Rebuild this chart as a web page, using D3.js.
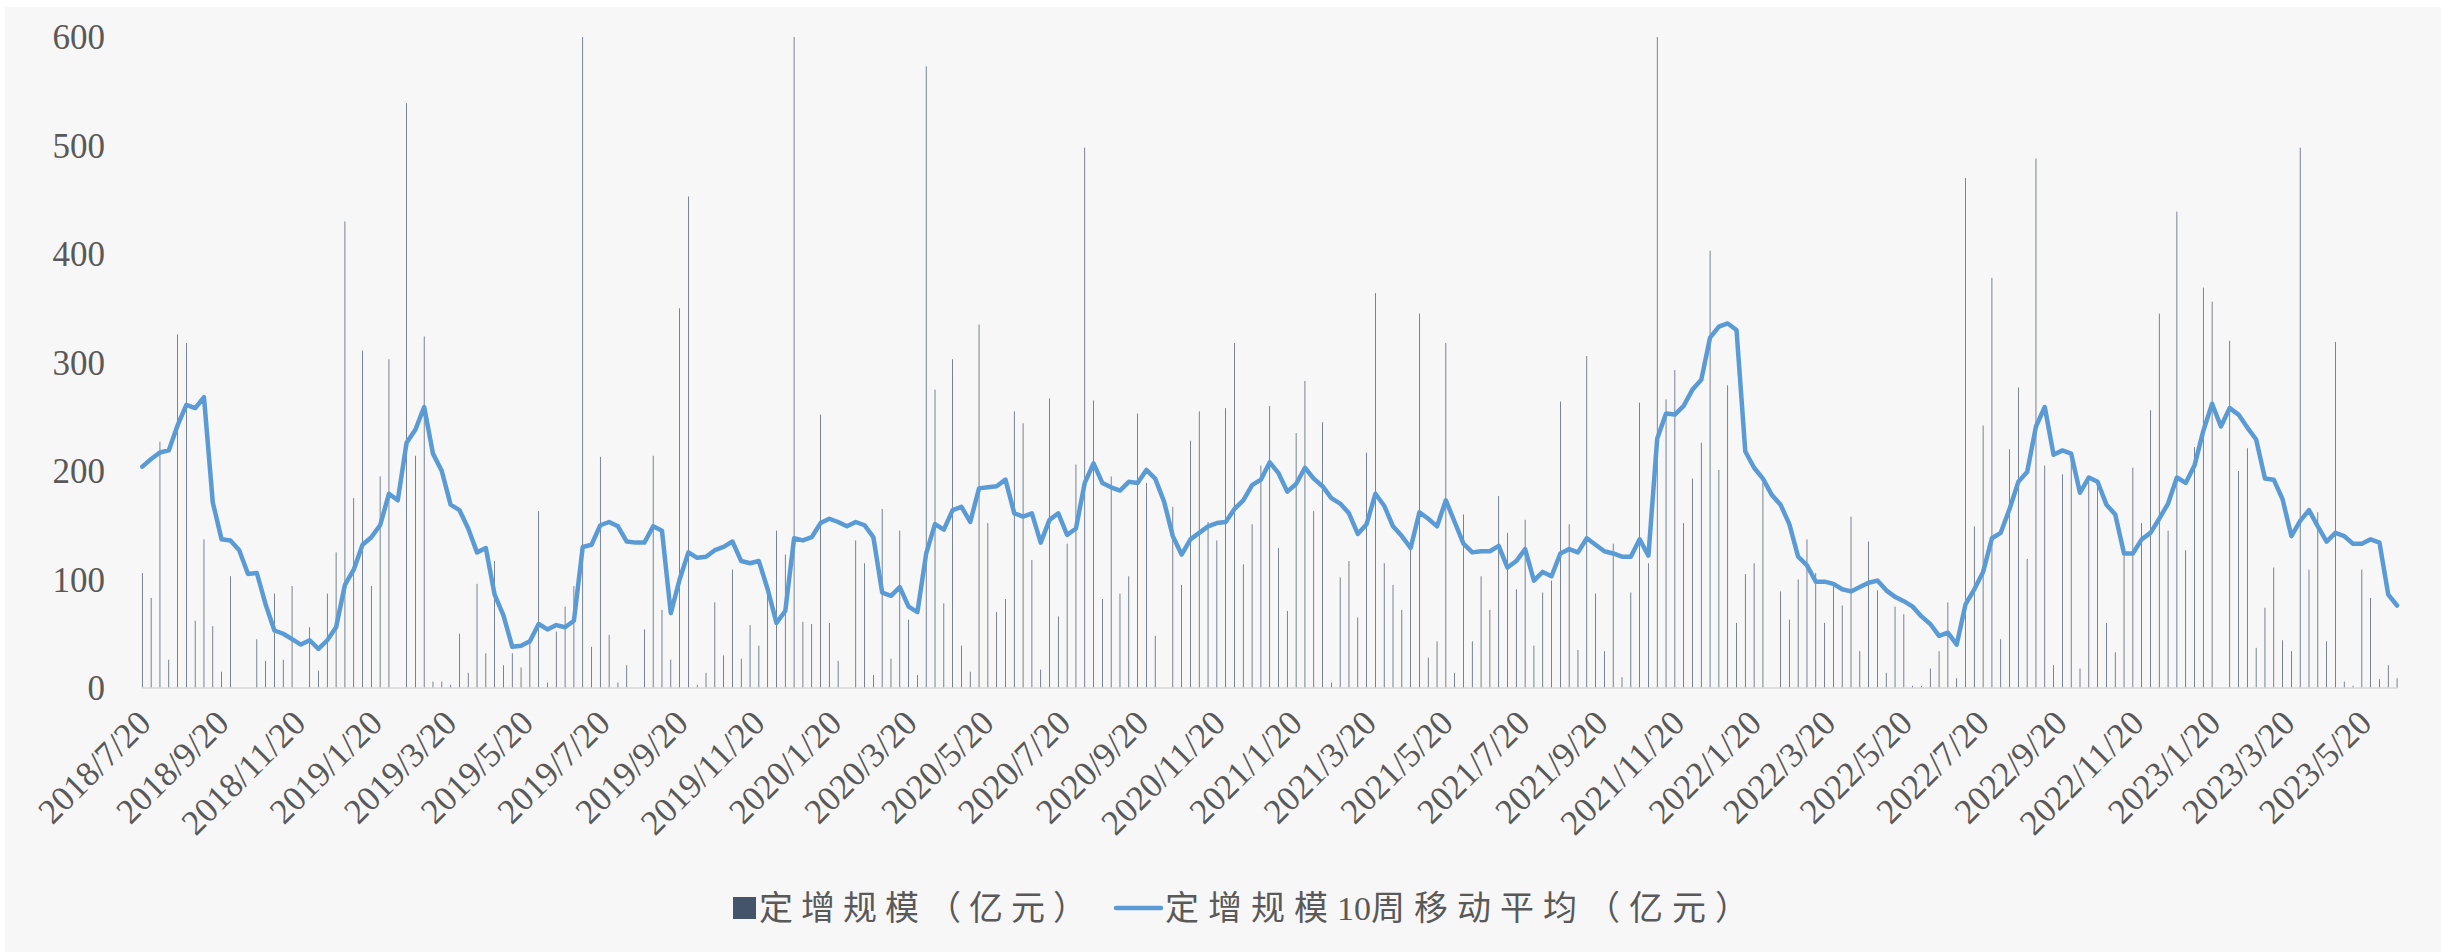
<!DOCTYPE html>
<html>
<head>
<meta charset="utf-8">
<script src="https://cdn.jsdelivr.net/npm/d3@7"></script>
<style>
html,body{margin:0;padding:0;background:#ffffff;}
svg{display:block;}
</style>
</head>
<body>
<svg id="chart" width="2441" height="952"></svg>
<script>
// ---------------- DATA ----------------
const firstWeek = "2018/7/20";   // weekly (Friday) observations from this date

const tickLabels = ["2018/7/20","2018/9/20","2018/11/20","2019/1/20","2019/3/20","2019/5/20",
  "2019/7/20","2019/9/20","2019/11/20","2020/1/20","2020/3/20","2020/5/20","2020/7/20",
  "2020/9/20","2020/11/20","2021/1/20","2021/3/20","2021/5/20","2021/7/20","2021/9/20",
  "2021/11/20","2022/1/20","2022/3/20","2022/5/20","2022/7/20","2022/9/20","2022/11/20",
  "2023/1/20","2023/3/20","2023/5/20"];

const yTicks = [0, 100, 200, 300, 400, 500, 600];

// 定增规模（亿元） weekly
const issuance = [
106,83,227,26,326,318,62,137,57,15,
103,0,0,45,25,87,26,94,0,56,
16,87,125,430,175,311,94,195,303,0,
539,214,324,6,6,3,50,14,96,32,
117,21,32,19,42,163,5,52,75,94,
786,38,213,49,5,21,0,54,214,72,
26,350,453,3,14,79,30,109,27,58,
39,91,145,123,684,61,59,252,60,25,
0,136,115,12,165,27,145,63,12,573,
275,78,303,39,15,335,152,70,82,255,
244,118,17,267,66,133,206,498,265,82,
195,87,103,253,189,48,0,167,95,228,
255,153,136,258,318,114,151,205,260,129,
71,235,283,163,245,5,102,117,65,217,
364,115,95,72,133,345,28,43,318,14,
160,43,103,72,177,143,91,155,39,88,
99,264,151,35,306,87,34,133,10,88,
263,115,1228,266,293,152,193,226,403,201,
279,60,105,115,189,0,89,63,100,137,
106,60,94,76,158,34,135,90,14,75,
68,2,2,18,34,79,9,470,149,242,
378,45,220,277,119,488,205,21,197,212,
18,190,186,60,33,124,203,152,256,345,
145,439,127,222,369,356,0,320,200,221,
37,74,111,44,34,498,109,162,43,319,
6,2,109,83,8,21,9
];

// 定增规模10周移动平均（亿元）
const movingAvg = [
204,211,217,219,242,261,258,268,171,137,
136,127,105,106,77,53,50,45,40,44,
36,44,56,95,109,132,139,150,179,173,
226,238,259,216,200,169,164,147,125,129,
86,67,38,39,43,59,54,58,56,62,
130,132,150,153,149,135,134,134,149,145,
69,100,125,120,121,127,130,135,117,115,
117,91,60,71,138,136,139,152,156,153,
149,153,150,139,88,85,93,75,70,124,
151,146,164,167,153,184,185,186,192,161,
158,161,134,155,161,141,147,189,207,189,
185,182,190,189,201,193,172,140,123,137,
143,149,152,153,165,173,187,192,208,198,
181,188,203,193,186,175,170,161,142,151,
179,168,149,140,129,162,156,149,173,153,
133,125,126,126,131,111,117,128,99,107,
103,124,128,125,138,132,126,124,121,121,
137,122,230,253,252,260,275,284,323,333,
336,330,218,203,193,178,169,151,121,113,
98,98,96,91,89,93,97,99,90,84,
80,75,66,59,48,51,40,77,91,107,
138,143,165,190,199,241,259,215,219,216,
180,194,190,169,160,124,124,137,143,156,
170,194,189,205,237,262,241,258,252,240,
229,193,192,174,140,154,164,149,135,143,
140,133,133,137,134,86,76
];

const seriesNames = ["定增规模（亿元）", "定增规模10周移动平均（亿元）"];

// ---------------- CHART ----------------
const W = 2441, H = 952;
const plot = {left: 141.7, right: 2397.7, top: 37, bottom: 688};
const colors = {bar: "#44546A", line: "#5B9BD5", text: "#595959", axis: "#D9D9D9", bg: "#F7F7F7"};

const parse = d3.utcParse("%Y/%m/%d");
const start = parse(firstWeek);
const dates = issuance.map((_, i) => d3.utcDay.offset(start, 7 * i));
const end = dates[dates.length - 1];

const svg = d3.select("#chart");
svg.append("rect").attr("x", 5).attr("y", 7).attr("width", W - 5).attr("height", H - 7).attr("fill", colors.bg);

const x = d3.scaleUtc()
  .domain([d3.utcHour.offset(start, -12), d3.utcHour.offset(end, 12)])
  .range([plot.left, plot.right]);
const y = d3.scaleLinear().domain([0, 600]).range([plot.bottom, plot.top]).clamp(true);

const dayW = x(d3.utcDay.offset(start, 1)) - x(start);
const barW = dayW * 0.56;

// bars
svg.append("g").selectAll("rect").data(issuance).join("rect")
  .attr("x", (d, i) => x(dates[i]) - barW / 2)
  .attr("width", barW)
  .attr("y", d => y(d))
  .attr("height", d => plot.bottom - y(d))
  .attr("fill", colors.bar);

// x axis
const xAxis = d3.axisBottom(x)
  .tickValues(tickLabels.map(parse))
  .tickFormat(d3.utcFormat("%Y/%-m/%-d"))
  .tickSize(0);
const gx = svg.append("g").attr("transform", `translate(0,${plot.bottom})`).call(xAxis);
gx.select(".domain").attr("stroke", colors.axis).attr("stroke-width", 1.6).attr("d", `M${plot.left},0H${plot.right}`);
gx.selectAll("text")
  .attr("x", 0).attr("y", 0).attr("dy", 0)
  .attr("text-anchor", "end")
  .attr("transform", "translate(10,37) rotate(-45)")
  .attr("fill", colors.text)
  .style("font-family", "'Liberation Serif','Times New Roman',serif")
  .style("font-size", "35px");

// y axis
const yAxis = d3.axisLeft(y).tickValues(yTicks).tickFormat(d3.format("d")).tickSize(0).tickPadding(0);
const gy = svg.append("g").attr("transform", "translate(105,0)").call(yAxis);
gy.select(".domain").remove();
gy.selectAll("text")
  .attr("fill", colors.text)
  .attr("dy", "0.34em")
  .style("font-family", "'Liberation Serif','Times New Roman',serif")
  .style("font-size", "35px");

// moving average line
const line = d3.line().x((d, i) => x(dates[i])).y(d => y(d));
svg.append("path").datum(movingAvg)
  .attr("d", line)
  .attr("fill", "none")
  .attr("stroke", colors.line)
  .attr("stroke-width", 4.5)
  .attr("stroke-linejoin", "round")
  .attr("stroke-linecap", "round");

// legend
const legY = 908;
const legFont = "'Liberation Serif','Noto Sans CJK SC',serif";
const lg = svg.append("g");
lg.append("rect").attr("x", 733).attr("y", legY - 11).attr("width", 23).attr("height", 22).attr("fill", colors.bar);
lg.append("text").attr("x", 759).attr("y", legY).attr("dy", "0.36em")
  .attr("fill", colors.text).style("font-family", legFont).style("font-size", "34px").style("letter-spacing", "8px")
  .text(seriesNames[0]);
lg.append("line").attr("x1", 1116).attr("x2", 1161).attr("y1", legY).attr("y2", legY)
  .attr("stroke", colors.line).attr("stroke-width", 4.5).attr("stroke-linecap", "round");
const t2 = lg.append("text").attr("x", 1165).attr("y", legY).attr("dy", "0.36em")
  .attr("fill", colors.text).style("font-family", legFont).style("font-size", "34px");
// split the second name so the digits keep natural spacing
const parts = seriesNames[1].split(/(\d+)/);
parts.forEach(p => {
  if (!p) return;
  t2.append("tspan").style("letter-spacing", /\d/.test(p) ? "0px" : "9px").text(p);
});
</script>
</body>
</html>
